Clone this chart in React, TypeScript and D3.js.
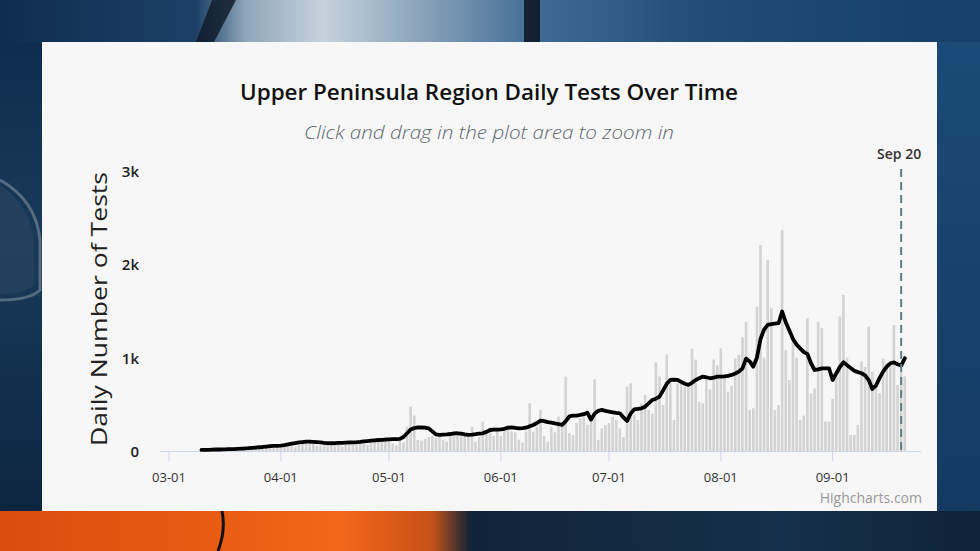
import React from 'react';
import * as d3 from 'd3';

// Daily tests (bars) and 7-day average (line), 2020-03-10 .. 2020-09-21
const marBars = [4, 6, 5, 8, 9, 7, 12, 14, 10, 15, 18, 22, 25, 20, 28, 32, 30, 25, 35, 38, 30, 40];
const aprBars = [55, 60, 75, 80, 45, 70, 95, 100, 90, 80, 55, 60, 90, 95, 85, 80, 70, 50, 90, 100, 95, 90, 100, 80, 65, 110, 120, 115, 130, 125];
const mayBars = [110, 80, 60, 130, 90, 260, 475, 380, 120, 110, 130, 150, 160, 140, 170, 120, 100, 180, 190, 170, 190, 180, 150, 260, 100, 150, 315, 200, 207, 160, 250];
const junBars = [160, 250, 230, 210, 200, 120, 90, 210, 511, 207, 260, 440, 161, 100, 261, 200, 368, 261, 797, 190, 170, 300, 350, 368, 280, 330, 768, 120, 243, 279];
const julBars = [300, 368, 332, 243, 150, 690, 725, 386, 332, 511, 600, 440, 400, 950, 797, 493, 1035, 780, 332, 725, 725, 690, 690, 1095, 980, 530, 510, 760, 660, 980, 920];
const augBars = [1100, 800, 636, 700, 990, 1030, 1220, 1386, 440, 457, 1547, 2208, 1000, 2047, 1530, 440, 493, 2369, 1083, 761, 1200, 1000, 332, 380, 1422, 618, 670, 1386, 1315, 315, 315];
const sepBars = [560, 800, 1440, 1672, 1000, 172, 172, 280, 960, 900, 1330, 850, 700, 620, 990, 940, 940, 1350, 710, 850, 800];

const marAvg = [12, 12, 13, 15, 16, 16, 18, 19, 21, 21, 23, 25, 27, 30, 34, 37, 40, 43, 48, 52, 54, 56];
const aprAvg = [58, 62, 70, 78, 85, 92, 96, 100, 100, 98, 95, 92, 88, 85, 83, 84, 86, 88, 90, 92, 93, 95, 98, 102, 106, 110, 114, 118, 120, 123];
const mayAvg = [125, 127, 128, 130, 150, 190, 230, 245, 252, 254, 250, 243, 210, 178, 172, 175, 178, 182, 188, 190, 185, 178, 172, 175, 180, 186, 190, 205, 225, 228, 230];
const junAvg = [232, 238, 250, 254, 248, 243, 245, 250, 265, 279, 300, 325, 320, 310, 304, 295, 288, 279, 320, 370, 378, 380, 386, 395, 411, 336, 400, 430, 440, 430];
const julAvg = [422, 415, 408, 404, 360, 322, 400, 447, 452, 458, 475, 510, 547, 560, 583, 650, 720, 761, 765, 761, 740, 720, 708, 730, 760, 780, 797, 790, 779, 785, 797];
const augAvg = [797, 800, 805, 815, 830, 850, 886, 990, 960, 904, 1000, 1200, 1300, 1351, 1360, 1365, 1369, 1494, 1380, 1290, 1200, 1140, 1100, 1060, 1040, 940, 868, 875, 886, 886, 886];
const sepAvg = [761, 830, 900, 950, 920, 890, 860, 845, 833, 810, 760, 665, 700, 780, 850, 904, 940, 950, 930, 915, 993];

const START_DATE = '2020-03-10';
const X_TICKS = ['2020-03-01', '2020-04-01', '2020-05-01', '2020-06-01', '2020-07-01', '2020-08-01', '2020-09-01'];
const Y_TICKS = [0, 1000, 2000, 3000];
const MARKER_DATE = '2020-09-20';
const MARKER_LABEL = 'Sep 20';
const TITLE = 'Upper Peninsula Region Daily Tests Over Time';
const SUBTITLE = 'Click and drag in the plot area to zoom in';
const Y_TITLE = 'Daily Number of Tests';
const CREDIT = 'Highcharts.com';

const parse = (s: string) => new Date(s + 'T00:00:00Z');

export default function App() {
  const W = 980, H = 551;
  const bars = [...marBars, ...aprBars, ...mayBars, ...junBars, ...julBars, ...augBars, ...sepBars];
  const avg = [...marAvg, ...aprAvg, ...mayAvg, ...junAvg, ...julAvg, ...augAvg, ...sepAvg];
  const start = parse(START_DATE);
  const dates = bars.map((_, i) => d3.utcDay.offset(start, i));

  const x = d3.scaleUtc()
    .domain([new Date(Date.UTC(2020, 1, 27, 12)), new Date(Date.UTC(2020, 8, 25, 12))])
    .range([160, 921]);
  const y = d3.scaleLinear().domain([0, 3000]).range([451, 171]);
  const fmt = d3.utcFormat('%m-%d');
  const yFmt = (v: number) => (v === 0 ? '0' : `${v / 1000}k`);

  const line = d3.line<number>()
    .x((_, i) => x(dates[i]))
    .y((d) => y(d));

  const barW = 2.6;
  const markerX = x(parse(MARKER_DATE));
  const labelFont = "'Open Sans', 'DejaVu Sans', sans-serif";

  return (
    <svg width={W} height={H} style={{ position: 'fixed', left: 0, top: 0 }} xmlns="http://www.w3.org/2000/svg">
      <defs>
        <linearGradient id="topBand" x1="0" x2="1" y1="0" y2="0">
          <stop offset="0" stopColor="#0f2d4f" />
          <stop offset="0.2" stopColor="#1c4066" />
          <stop offset="0.25" stopColor="#8ea5b9" />
          <stop offset="0.33" stopColor="#c6d2dc" />
          <stop offset="0.45" stopColor="#7d9ab4" />
          <stop offset="0.55" stopColor="#3f6a93" />
          <stop offset="0.72" stopColor="#1f4c78" />
          <stop offset="1" stopColor="#163f69" />
        </linearGradient>
        <linearGradient id="leftBand" x1="0" x2="0" y1="0" y2="1">
          <stop offset="0" stopColor="#0f2e4f" />
          <stop offset="0.45" stopColor="#1a3a5a" />
          <stop offset="0.7" stopColor="#12304e" />
          <stop offset="1" stopColor="#0d2640" />
        </linearGradient>
        <linearGradient id="rightBand" x1="0" x2="0" y1="0" y2="1">
          <stop offset="0" stopColor="#1b4a78" />
          <stop offset="1" stopColor="#143a62" />
        </linearGradient>
        <linearGradient id="bottomBand" x1="0" x2="1" y1="0" y2="0">
          <stop offset="0" stopColor="#d94c0e" />
          <stop offset="0.2" stopColor="#e85a12" />
          <stop offset="0.35" stopColor="#f2661a" />
          <stop offset="0.44" stopColor="#c95218" />
          <stop offset="0.48" stopColor="#102338" />
          <stop offset="0.8" stopColor="#15304c" />
          <stop offset="1" stopColor="#0e2238" />
        </linearGradient>
      </defs>

      {/* photographed background */}
      <rect x={0} y={0} width={W} height={H} fill="#12365a" />
      <rect x={0} y={0} width={W} height={42} fill="url(#topBand)" />
      <polygon points="212,0 236,0 214,42 196,42" fill="#0b1624" opacity={0.8} />
      <rect x={524} y={0} width={16} height={42} fill="#0b1420" opacity={0.85} />
      <rect x={0} y={42} width={42} height={469} fill="url(#leftBand)" />
      <path d="M0,180 Q36,200 40,240 L40,290 Q30,300 0,300" stroke="#6f8192" strokeWidth={3} fill="none" opacity={0.7} />
      <path d="M0,185 Q30,205 34,240 L34,285 Q26,294 0,294 Z" fill="#2a4560" opacity={0.6} />
      <rect x={937} y={42} width={43} height={469} fill="url(#rightBand)" />
      <rect x={0} y={511} width={W} height={40} fill="url(#bottomBand)" />
      <path d="M222,511 Q226,530 218,551" stroke="#111" strokeWidth={3} fill="none" />

      {/* chart panel */}
      <rect x={42} y={42} width={895} height={469} fill="#f7f7f7" />

      <text x={489} y={100} textAnchor="middle" fontFamily={labelFont} fontWeight={600} fontSize={22} fill="#111"
        textLength={498} lengthAdjust="spacingAndGlyphs">{TITLE}</text>
      <text x={489} y={139} textAnchor="middle" fontFamily={labelFont} fontStyle="italic" fontWeight={300} fontSize={19} fill="#5d6670"
        textLength={370} lengthAdjust="spacingAndGlyphs">{SUBTITLE}</text>

      {/* y axis title */}
      <text transform="translate(107,309) rotate(-90)" textAnchor="middle" fontFamily={labelFont} fontSize={21} fill="#222"
        textLength={274} lengthAdjust="spacingAndGlyphs">{Y_TITLE}</text>

      {/* y labels */}
      {Y_TICKS.map((t) => (
        <text key={t} x={139} y={y(t) + 6} textAnchor="end" fontFamily={labelFont} fontWeight={600} fontSize={15} fill="#222">{yFmt(t)}</text>
      ))}

      {/* bars */}
      {bars.map((v, i) => (
        <rect key={i} x={x(dates[i]) - barW / 2} y={y(v)} width={barW} height={y(0) - y(v)} fill="#d3d3d3" />
      ))}

      {/* x axis */}
      <line x1={160} x2={921} y1={451.5} y2={451.5} stroke="#ccd6eb" strokeWidth={1} />
      {X_TICKS.map((t) => {
        const xx = x(parse(t));
        return (
          <g key={t}>
            <line x1={xx} x2={xx} y1={451} y2={461} stroke="#ccd6eb" strokeWidth={1} />
            <text x={xx} y={482} textAnchor="middle" fontFamily={labelFont} fontSize={13} fill="#333">{fmt(parse(t))}</text>
          </g>
        );
      })}

      {/* 7-day average line */}
      <path d={line(avg) || ''} fill="none" stroke="#000" strokeWidth={3.8} strokeLinejoin="round" strokeLinecap="round" />

      {/* marker */}
      <line x1={markerX} x2={markerX} y1={169} y2={451} stroke="#5f7d82" strokeWidth={2} strokeDasharray="8,5" />
      <text x={markerX - 2} y={159} textAnchor="middle" fontFamily={labelFont} fontWeight={600} fontSize={14} fill="#333">{MARKER_LABEL}</text>

      <text x={922} y={503} textAnchor="end" fontFamily={labelFont} fontSize={14} fill="#999">{CREDIT}</text>
    </svg>
  );
}
